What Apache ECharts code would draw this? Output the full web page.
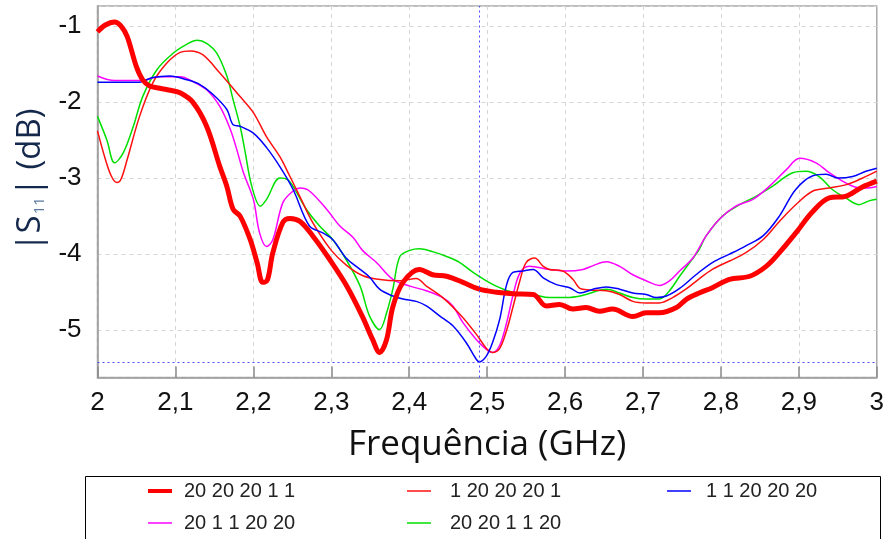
<!DOCTYPE html>
<html>
<head>
<meta charset="utf-8">
<title>|S11| (dB) x Frequência</title>
<script src="https://cdn.jsdelivr.net/npm/echarts@6/dist/echarts.min.js"></script>
<style>
  html, body { margin: 0; padding: 0; background: #ffffff; }
  #chart { width: 887px; height: 539px; }
</style>
</head>
<body>
<div id="chart"></div>
<script>
// Series names (layer thicknesses of each configuration)
const seriesNames = ['20 20 20 1 1', '1 20 20 20 1', '1 1 20 20 20', '20 1 1 20 20', '20 20 1 1 20'];

// Frequency ticks (GHz)
const xTicks = [2, 2.1, 2.2, 2.3, 2.4, 2.5, 2.6, 2.7, 2.8, 2.9, 3];

// Marker: minimum of "1 1 20 20 20"
const markerFreq = 2.49;
const markerLevel = -5.415;

// 20 20 20 1 1
const freqA = [2.0, 2.01, 2.022, 2.03, 2.038, 2.05, 2.058, 2.067, 2.08, 2.095, 2.106, 2.122, 2.14, 2.157, 2.166, 2.174, 2.183, 2.196, 2.205, 2.212, 2.218, 2.225, 2.238, 2.247, 2.26, 2.277, 2.298, 2.32, 2.34, 2.353, 2.362, 2.371, 2.379, 2.392, 2.413, 2.43, 2.448, 2.469, 2.49, 2.512, 2.533, 2.559, 2.576, 2.593, 2.61, 2.627, 2.644, 2.661, 2.687, 2.704, 2.721, 2.743, 2.756, 2.772, 2.789, 2.811, 2.837, 2.858, 2.875, 2.897, 2.917, 2.939, 2.96, 2.981, 3.0];
const s11A  = [-1.08, -0.99, -0.95, -1.0, -1.14, -1.54, -1.71, -1.79, -1.82, -1.85, -1.88, -2.0, -2.32, -2.85, -3.11, -3.41, -3.5, -3.81, -4.12, -4.37, -4.34, -3.98, -3.58, -3.53, -3.57, -3.77, -4.07, -4.42, -4.82, -5.12, -5.29, -5.12, -4.69, -4.37, -4.2, -4.27, -4.29, -4.37, -4.46, -4.5, -4.52, -4.53, -4.68, -4.66, -4.72, -4.7, -4.75, -4.72, -4.82, -4.77, -4.77, -4.7, -4.59, -4.51, -4.44, -4.33, -4.29, -4.16, -3.98, -3.71, -3.45, -3.26, -3.24, -3.12, -3.04];

// 1 20 20 20 1
const freqB = [2.0, 2.01, 2.018, 2.025, 2.03, 2.038, 2.054, 2.071, 2.089, 2.106, 2.119, 2.135, 2.157, 2.183, 2.2, 2.217, 2.234, 2.247, 2.26, 2.277, 2.3, 2.32, 2.34, 2.36, 2.388, 2.409, 2.422, 2.443, 2.465, 2.486, 2.5, 2.507, 2.516, 2.525, 2.533, 2.542, 2.55, 2.561, 2.572, 2.58, 2.597, 2.61, 2.619, 2.631, 2.653, 2.67, 2.687, 2.704, 2.721, 2.738, 2.755, 2.77, 2.789, 2.811, 2.832, 2.854, 2.875, 2.896, 2.918, 2.939, 2.96, 2.982, 3.0];
const s11B  = [-2.38, -2.75, -2.98, -3.06, -3.02, -2.76, -2.19, -1.75, -1.49, -1.35, -1.33, -1.38, -1.62, -1.93, -2.14, -2.46, -2.72, -2.98, -3.25, -3.6, -3.95, -4.15, -4.28, -4.33, -4.35, -4.32, -4.42, -4.57, -4.79, -5.05, -5.25, -5.29, -5.24, -5.0, -4.7, -4.35, -4.11, -4.05, -4.16, -4.2, -4.22, -4.33, -4.45, -4.47, -4.48, -4.53, -4.62, -4.64, -4.64, -4.57, -4.46, -4.34, -4.2, -4.09, -3.98, -3.81, -3.57, -3.35, -3.17, -3.13, -3.09, -3.0, -2.91];

// 1 1 20 20 20
const freqC = [2.0, 2.054, 2.071, 2.093, 2.115, 2.131, 2.148, 2.166, 2.174, 2.183, 2.2, 2.217, 2.234, 2.251, 2.272, 2.289, 2.302, 2.319, 2.337, 2.349, 2.362, 2.379, 2.392, 2.409, 2.422, 2.439, 2.456, 2.473, 2.486, 2.49, 2.499, 2.507, 2.516, 2.525, 2.533, 2.546, 2.559, 2.572, 2.589, 2.606, 2.619, 2.636, 2.653, 2.67, 2.687, 2.704, 2.717, 2.73, 2.747, 2.768, 2.789, 2.811, 2.832, 2.854, 2.875, 2.896, 2.918, 2.935, 2.95, 2.969, 2.986, 3.0];
const s11C  = [-1.74, -1.74, -1.68, -1.66, -1.71, -1.77, -1.9, -2.1, -2.3, -2.32, -2.41, -2.6, -2.85, -3.15, -3.63, -3.72, -3.81, -4.05, -4.2, -4.3, -4.46, -4.55, -4.59, -4.62, -4.68, -4.81, -4.94, -5.16, -5.38, -5.415, -5.34, -5.16, -4.86, -4.4, -4.24, -4.22, -4.2, -4.31, -4.4, -4.44, -4.51, -4.46, -4.43, -4.46, -4.51, -4.53, -4.57, -4.55, -4.45, -4.27, -4.11, -4.0, -3.89, -3.76, -3.5, -3.15, -2.97, -2.95, -3.0, -2.98, -2.91, -2.87];

// 20 1 1 20 20
const freqD = [2.0, 2.022, 2.054, 2.08, 2.106, 2.122, 2.14, 2.157, 2.17, 2.178, 2.187, 2.2, 2.208, 2.217, 2.225, 2.238, 2.251, 2.26, 2.272, 2.294, 2.311, 2.328, 2.34, 2.358, 2.379, 2.401, 2.422, 2.443, 2.456, 2.469, 2.486, 2.499, 2.507, 2.516, 2.525, 2.533, 2.542, 2.554, 2.58, 2.602, 2.623, 2.636, 2.653, 2.67, 2.687, 2.704, 2.721, 2.734, 2.747, 2.764, 2.781, 2.798, 2.819, 2.841, 2.862, 2.884, 2.901, 2.922, 2.939, 2.956, 2.973, 2.986, 3.0];
const s11D  = [-1.66, -1.72, -1.72, -1.67, -1.67, -1.73, -1.84, -2.06, -2.35, -2.6, -2.92, -3.28, -3.72, -3.9, -3.81, -3.32, -3.17, -3.13, -3.17, -3.41, -3.63, -3.78, -3.95, -4.11, -4.33, -4.42, -4.48, -4.57, -4.68, -4.9, -5.12, -5.25, -5.29, -5.2, -4.9, -4.55, -4.25, -4.16, -4.2, -4.22, -4.2, -4.15, -4.1, -4.16, -4.27, -4.35, -4.41, -4.35, -4.22, -4.05, -3.76, -3.54, -3.37, -3.28, -3.11, -2.89, -2.74, -2.8, -2.93, -3.04, -3.12, -3.13, -3.11];

// 20 20 1 1 20
const freqE = [2.0, 2.012, 2.022, 2.033, 2.046, 2.058, 2.076, 2.097, 2.115, 2.128, 2.14, 2.153, 2.166, 2.174, 2.183, 2.189, 2.198, 2.209, 2.217, 2.234, 2.244, 2.251, 2.268, 2.285, 2.302, 2.319, 2.337, 2.349, 2.362, 2.371, 2.379, 2.388, 2.401, 2.413, 2.431, 2.448, 2.465, 2.482, 2.499, 2.516, 2.533, 2.559, 2.58, 2.602, 2.623, 2.653, 2.67, 2.687, 2.704, 2.721, 2.734, 2.747, 2.76, 2.772, 2.781, 2.802, 2.824, 2.845, 2.866, 2.892, 2.909, 2.926, 2.943, 2.96, 2.977, 2.99, 3.0];
const s11E  = [-2.19, -2.5, -2.8, -2.67, -2.32, -1.93, -1.58, -1.36, -1.24, -1.19, -1.23, -1.36, -1.66, -1.97, -2.32, -2.63, -3.11, -3.37, -3.28, -3.0, -3.02, -3.11, -3.41, -3.63, -3.81, -4.07, -4.42, -4.81, -4.99, -4.77, -4.46, -4.03, -3.95, -3.93, -3.97, -4.03, -4.11, -4.24, -4.35, -4.44, -4.5, -4.53, -4.57, -4.57, -4.54, -4.46, -4.51, -4.57, -4.59, -4.59, -4.48, -4.29, -4.11, -3.94, -3.76, -3.5, -3.35, -3.24, -3.11, -2.93, -2.91, -2.98, -3.15, -3.26, -3.35, -3.3, -3.28];

const zip = (xs, ys) => xs.map((x, i) => [x, ys[i]]);

const chart = echarts.init(document.getElementById('chart'), null, { renderer: 'canvas' });

const labelFont = 'Liberation Sans, Arial, sans-serif';
const titleFont = 'Open Sans, Noto Sans, sans-serif';
const markerStyle = { type: [2, 3], color: '#4a4aff', width: 1, opacity: 1 };

function lineSeries(name, xs, ys, color, width, z) {
  return {
    name: name,
    type: 'line',
    data: zip(xs, ys),
    showSymbol: false,
    symbol: 'none',
    smooth: 0.35,
    z: z,
    lineStyle: { color: color, width: width },
    itemStyle: { color: color },
    emphasis: { disabled: true }
  };
}

const series = [
  lineSeries(seriesNames[4], freqE, s11E, '#00e000', 1.5, 2),
  lineSeries(seriesNames[3], freqD, s11D, '#ff00ff', 1.5, 2),
  lineSeries(seriesNames[1], freqB, s11B, '#ff1010', 1.5, 2),
  Object.assign(lineSeries(seriesNames[2], freqC, s11C, '#0000ff', 1.5, 3), {
    markLine: {
      silent: true,
      symbol: 'none',
      label: { show: false },
      animation: false,
      lineStyle: markerStyle,
      emphasis: { disabled: true },
      data: [
        { xAxis: markerFreq, lineStyle: markerStyle },
        { yAxis: markerLevel, lineStyle: markerStyle }
      ]
    }
  }),
  lineSeries(seriesNames[0], freqA, s11A, '#ff0000', 5, 4)
];

// One legend block per entry so the three columns line up
const legendItemsPos = [
  { name: seriesNames[0], left: 148, top: 481, w: 24, h: 4, pad: 7 },
  { name: seriesNames[1], left: 407, top: 481, w: 24, h: 1.5, pad: 14 },
  { name: seriesNames[2], left: 667, top: 481, w: 24, h: 1.5, pad: 10 },
  { name: seriesNames[3], left: 148, top: 513, w: 24, h: 1.5, pad: 7 },
  { name: seriesNames[4], left: 407, top: 513, w: 24, h: 1.5, pad: 14 }
];

const legends = legendItemsPos.map(p => ({
  data: [p.name],
  left: p.left,
  top: p.top,
  padding: 0,
  icon: 'rect',
  itemWidth: p.w,
  itemHeight: p.h,
  selectedMode: false,
  textStyle: { fontFamily: labelFont, fontSize: 20, color: '#222', padding: [0, 0, 0, p.pad] }
}));

const option = {
  animation: false,
  backgroundColor: '#ffffff',
  grid: {
    left: 97.5, right: 9.5, top: 6, bottom: 161.5,
    show: true, borderColor: '#a8a8a8', borderWidth: 1.5, containLabel: false
  },
  legend: legends,
  xAxis: {
    type: 'value',
    min: 2, max: 3, interval: 0.1,
    axisLine: { show: true, lineStyle: { color: '#999999', width: 1.5 } },
    axisTick: { show: true, inside: true, length: 11, lineStyle: { color: '#8a8a8a', width: 1.5 } },
    splitLine: { show: true, lineStyle: { type: [4, 4], color: '#d6d6d6', width: 1 } },
    axisLabel: {
      fontFamily: labelFont, fontSize: 26, color: '#111', margin: 12,
      formatter: v => String(Math.round(v * 10) / 10).replace('.', ',')
    },
    name: 'Frequência (GHz)',
    nameLocation: 'middle',
    nameGap: 50,
    nameTextStyle: { fontFamily: titleFont, fontSize: 35, color: '#111' }
  },
  yAxis: {
    type: 'value',
    min: -5.62, max: -0.74,
    axisLine: { show: true, lineStyle: { color: '#999999', width: 1.5 } },
    axisTick: { show: false },
    splitLine: { show: true, lineStyle: { type: [4, 4], color: '#d6d6d6', width: 1 } },
    axisLabel: {
      fontFamily: labelFont, fontSize: 26, color: '#111', margin: 16,
      showMinLabel: false, showMaxLabel: false,
      formatter: v => (Math.abs(v - Math.round(v)) < 1e-6 ? String(Math.round(v)) : '')
    }
  },
  graphic: [
    {
      type: 'text',
      x: 31, y: 180,
      rotation: Math.PI / 2,
      style: {
        text: '|S{sub|11}| (dB)',
        fontFamily: titleFont,
        fontSize: 33,
        fill: '#14284b',
        align: 'center',
        verticalAlign: 'middle',
        rich: {
          sub: { fontFamily: titleFont, fontSize: 15, fill: '#5a7aa0', verticalAlign: 'bottom', padding: [14, 1, 0, 1] }
        }
      }
    },
    {
      type: 'rect',
      shape: { x: 85.5, y: 476.5, width: 795, height: 80 },
      style: { fill: 'none', stroke: '#000', lineWidth: 1 },
      silent: true,
      z: -1
    }
  ],
  series: series
};

chart.setOption(option);
</script>
</body>
</html>
